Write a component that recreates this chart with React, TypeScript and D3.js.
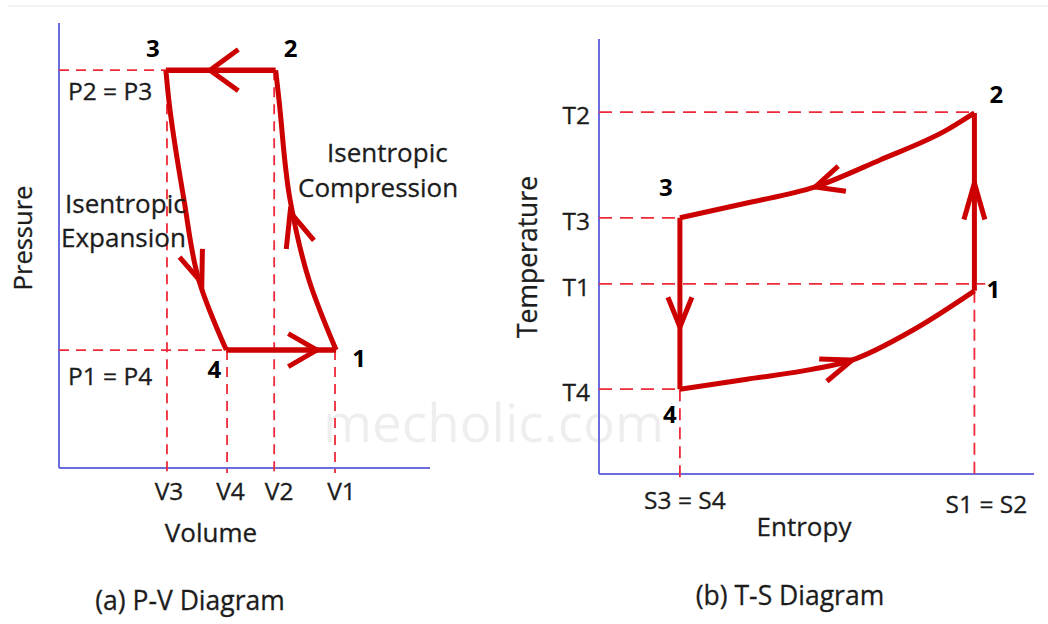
import React from "react";
import * as d3 from "d3";

const FONT = "'Open Sans', 'Noto Sans', sans-serif";

// ---------------- P-V diagram data ----------------
const pvVolumeLabels = ["V3", "V4", "V2", "V1"];
const pvVolumeValues = [29.1, 45.3, 58.0, 74.4];
const pvPressureLabels = ["P2 = P3", "P1 = P4"];
const pvPressureValues = [89.4, 26.5];
const pvStateLabels = ["1", "2", "3", "4"];
const pvStateV = [74.7, 58.4, 28.8, 45.1];
const pvStateP = [26.5, 89.4, 89.4, 26.5];
// isentropic expansion 3 -> 4
const pvExpansionV = [28.8, 29.6, 33.7, 37.7, 45.1];
const pvExpansionP = [89.4, 82.7, 60.2, 42.2, 26.5];
// isentropic compression 1 -> 2
const pvCompressionV = [74.7, 67.4, 62.3, 59.3, 58.4];
const pvCompressionP = [26.5, 42.2, 60.2, 82.7, 89.4];
// arrow tips: 2->3, 4->1, 3->4, 1->2
const pvArrowV = [40.7, 69.5, 38.5, 62.3];
const pvArrowP = [89.4, 26.5, 41.6, 57.5];

// ---------------- T-S diagram data ----------------
const tsTempLabels = ["T2", "T3", "T1", "T4"];
const tsTempValues = [83.2, 58.9, 43.7, 19.5];
const tsEntropyLabels = ["S3 = S4", "S1 = S2"];
const tsEntropyValues = [18.6, 86.3];
const tsStateLabels = ["1", "2", "3", "4"];
const tsStateS = [86.3, 86.3, 18.6, 18.6];
const tsStateT = [42.1, 83.0, 58.9, 19.5];
// heat rejection 2 -> 3
const tsRejectS = [86.3, 80.0, 64.6, 49.7, 34.0, 18.6];
const tsRejectT = [83.0, 79.1, 72.2, 66.0, 62.3, 58.9];
// heat addition 4 -> 1
const tsAddS = [18.6, 34.0, 49.2, 58.2, 72.2, 86.3];
const tsAddT = [19.5, 21.8, 24.1, 26.2, 33.1, 42.1];
// arrow tips: 2->3, 3->4, 4->1, 1->2
const tsArrowS = [49.7, 18.6, 58.2, 86.3];
const tsArrowT = [66.0, 33.8, 26.2, 66.9];

// ---------------- styles ----------------
const AXIS = "#6c6cde";
const GUIDE = "#ee2a3a";
const CYCLE = "#cc0000";
const TEXT = "#1c1c1c";

const pvArrowStyle = [
  { angle: 180, half: 36, len: 35 },
  { angle: 0, half: 30, len: 33 },
  { angle: 70, half: 21, len: 34 },
  { angle: 253, half: 23, len: 37 },
];
const tsArrowStyle = [
  { angle: 163, half: 25, len: 31 },
  { angle: 90, half: 22, len: 32 },
  { angle: -19, half: 21, len: 33 },
  { angle: -90, half: 16, len: 38 },
];
const pvStateOffset = [
  [23, 17],
  [15, -13],
  [-13, -13],
  [-12, 28],
];
const tsStateOffset = [
  [19, 7],
  [22, -10],
  [-14, -22],
  [-10, 34],
];

function arrowPath(x: number, y: number, st: { angle: number; half: number; len: number }) {
  const a = (st.angle * Math.PI) / 180;
  const h = (st.half * Math.PI) / 180;
  const x1 = x - st.len * Math.cos(a + h);
  const y1 = y - st.len * Math.sin(a + h);
  const x2 = x - st.len * Math.cos(a - h);
  const y2 = y - st.len * Math.sin(a - h);
  return `M${x1},${y1}L${x},${y}L${x2},${y2}`;
}

function byY(pts: [number, number][]) {
  return pts.slice().sort((a, b) => a[1] - b[1]);
}
function byX(pts: [number, number][]) {
  return pts.slice().sort((a, b) => a[0] - b[0]);
}

function PV() {
  const x = d3.scaleLinear().domain([0, 100]).range([59, 430]);
  const y = d3.scaleLinear().domain([0, 100]).range([468, 23]);
  const axisBottom = y(0);
  const line = d3
    .line<[number, number]>()
    .x((d) => x(d[0]))
    .y((d) => y(d[1]))
    .curve(d3.curveMonotoneY);
  const straight = d3
    .line<[number, number]>()
    .x((d) => x(d[0]))
    .y((d) => y(d[1]));
  const expansion = byY(pvExpansionV.map((v, i) => [v, pvExpansionP[i]] as [number, number]));
  const compression = byY(pvCompressionV.map((v, i) => [v, pvCompressionP[i]] as [number, number]));
  const s = (lab: string) => {
    const i = pvStateLabels.indexOf(lab);
    return [pvStateV[i], pvStateP[i]] as [number, number];
  };
  const guideTop = [pvPressureValues[0], pvPressureValues[1], pvPressureValues[0], pvPressureValues[1]];
  const guideRight = [s("3")[0], s("4")[0]];
  return (
    <g>
      <line x1={x(0)} x2={x(0)} y1={y(100)} y2={axisBottom} stroke={AXIS} strokeWidth={2} />
      <line x1={x(0)} x2={x(100)} y1={axisBottom} y2={axisBottom} stroke={AXIS} strokeWidth={2} />
      {pvPressureValues.map((p, i) => (
        <line key={"pg" + i} x1={x(0)} x2={x(guideRight[i])} y1={y(p)} y2={y(p)} stroke={GUIDE} strokeWidth={1.8} strokeDasharray="10,7" />
      ))}
      {pvVolumeValues.map((v, i) => (
        <line key={"vg" + i} x1={x(v)} x2={x(v)} y1={y(guideTop[i])} y2={axisBottom + 5} stroke={GUIDE} strokeWidth={1.8} strokeDasharray="10,7" />
      ))}
      <path d={straight([s("2"), s("3")]) || ""} fill="none" stroke={CYCLE} strokeWidth={5.5} />
      <path d={straight([s("4"), s("1")]) || ""} fill="none" stroke={CYCLE} strokeWidth={5.5} />
      <path d={line(expansion) || ""} fill="none" stroke={CYCLE} strokeWidth={5} strokeLinejoin="round" />
      <path d={line(compression) || ""} fill="none" stroke={CYCLE} strokeWidth={5} strokeLinejoin="round" />
      {pvArrowV.map((v, i) => (
        <path key={"pa" + i} d={arrowPath(x(v), y(pvArrowP[i]), pvArrowStyle[i])} fill="none" stroke={CYCLE} strokeWidth={5} />
      ))}
      <g fontFamily={FONT} fill={TEXT} stroke={TEXT} strokeWidth={0.3}>
        {pvPressureLabels.map((t, i) => (
          <text key={"pl" + i} x={x(0) + 9} y={y(pvPressureValues[i]) + (i === 0 ? 30 : 35)} fontSize={24.5}>
            {t}
          </text>
        ))}
        {pvVolumeLabels.map((t, i) => (
          <text key={"vl" + i} x={x(pvVolumeValues[i]) + 2 + i * 1.5} y={500} fontSize={24.5} textAnchor="middle">
            {t}
          </text>
        ))}
        <text x={211} y={542} fontSize={26} textAnchor="middle">Volume</text>
        <text transform="translate(32,238) rotate(-90)" fontSize={25.5} textAnchor="middle">Pressure</text>
        <text x={65} y={213} fontSize={26}>Isentropic</text>
        <text x={61} y={247} fontSize={26}>Expansion</text>
        <text x={327} y={162} fontSize={26}>Isentropic</text>
        <text x={298} y={197} fontSize={26}>Compression</text>
        <text x={190} y={610} fontSize={26.5} textAnchor="middle">(a) P-V Diagram</text>
        {pvStateLabels.map((t, i) => (
          <text
            key={"ps" + i}
            x={x(pvStateV[i]) + pvStateOffset[i][0]}
            y={y(pvStateP[i]) + pvStateOffset[i][1]}
            fontSize={24}
            fontWeight="bold"
            textAnchor="middle"
            fill="#000"
            stroke="none"
          >
            {t}
          </text>
        ))}
      </g>
    </g>
  );
}

function TS() {
  const x = d3.scaleLinear().domain([0, 100]).range([599, 1034]);
  const y = d3.scaleLinear().domain([0, 100]).range([474, 39]);
  const axisBottom = y(0);
  const line = d3
    .line<[number, number]>()
    .x((d) => x(d[0]))
    .y((d) => y(d[1]))
    .curve(d3.curveMonotoneX);
  const straight = d3
    .line<[number, number]>()
    .x((d) => x(d[0]))
    .y((d) => y(d[1]));
  const s = (lab: string) => {
    const i = tsStateLabels.indexOf(lab);
    return [tsStateS[i], tsStateT[i]] as [number, number];
  };
  const reject = byX(tsRejectS.map((v, i) => [v, tsRejectT[i]] as [number, number]));
  const add = byX(tsAddS.map((v, i) => [v, tsAddT[i]] as [number, number]));
  const tRight = [s("2")[0], s("3")[0], s("1")[0] + 2.5, s("4")[0]];
  const sTop = [s("4")[1], s("1")[1]];
  return (
    <g>
      <line x1={x(0)} x2={x(0)} y1={y(100)} y2={axisBottom} stroke={AXIS} strokeWidth={2} />
      <line x1={x(0)} x2={x(100)} y1={axisBottom} y2={axisBottom} stroke={AXIS} strokeWidth={2} />
      {tsTempValues.map((t, i) => (
        <line key={"tg" + i} x1={x(0)} x2={x(tRight[i])} y1={y(t)} y2={y(t)} stroke={GUIDE} strokeWidth={1.8} strokeDasharray="13,8" />
      ))}
      {tsEntropyValues.map((v, i) => (
        <line key={"sg" + i} x1={x(v)} x2={x(v)} y1={y(sTop[i])} y2={axisBottom + 4} stroke={GUIDE} strokeWidth={1.8} strokeDasharray="12,7" />
      ))}
      <path d={line(reject) || ""} fill="none" stroke={CYCLE} strokeWidth={5} strokeLinejoin="round" />
      <path d={line(add) || ""} fill="none" stroke={CYCLE} strokeWidth={5} strokeLinejoin="round" />
      <path d={straight([s("3"), s("4")]) || ""} fill="none" stroke={CYCLE} strokeWidth={5} />
      <path d={straight([s("1"), s("2")]) || ""} fill="none" stroke={CYCLE} strokeWidth={5} />
      {tsArrowS.map((v, i) => (
        <path key={"ta" + i} d={arrowPath(x(v), y(tsArrowT[i]), tsArrowStyle[i])} fill="none" stroke={CYCLE} strokeWidth={5} />
      ))}
      <g fontFamily={FONT} fill={TEXT} stroke={TEXT} strokeWidth={0.3}>
        {tsTempLabels.map((t, i) => (
          <text key={"tl" + i} x={x(0) - 9} y={y(tsTempValues[i]) + 12} fontSize={24.5} textAnchor="end">
            {t}
          </text>
        ))}
        {tsEntropyLabels.map((t, i) => (
          <text key={"sl" + i} x={x(tsEntropyValues[i]) + 5 + i * 7} y={509 + i * 4} fontSize={24.5} textAnchor="middle">
            {t}
          </text>
        ))}
        <text x={804} y={536} fontSize={26} textAnchor="middle">Entropy</text>
        <text transform="translate(537,257) rotate(-90)" fontSize={26.5} textAnchor="middle">Temperature</text>
        <text x={790} y={605} fontSize={26.5} textAnchor="middle">(b) T-S Diagram</text>
        {tsStateLabels.map((t, i) => (
          <text
            key={"ts" + i}
            x={x(tsStateS[i]) + tsStateOffset[i][0]}
            y={y(tsStateT[i]) + tsStateOffset[i][1]}
            fontSize={24}
            fontWeight="bold"
            textAnchor="middle"
            fill="#000"
            stroke="none"
          >
            {t}
          </text>
        ))}
      </g>
    </g>
  );
}

export default function App() {
  return (
    <svg
      width={1048}
      height={624}
      viewBox="0 0 1048 624"
      style={{ position: "absolute", left: 0, top: 0, background: "#fff" }}
    >
      <rect x={0} y={0} width={1048} height={624} fill="#fff" />
      <line x1={8} x2={1048} y1={6} y2={6} stroke="#f2f2f2" strokeWidth={2} />
      <text x={323} y={442} fontFamily={FONT} fontSize={53} fill="#000" fillOpacity={0.065}>
        mecholic.com
      </text>
      <PV />
      <TS />
    </svg>
  );
}
